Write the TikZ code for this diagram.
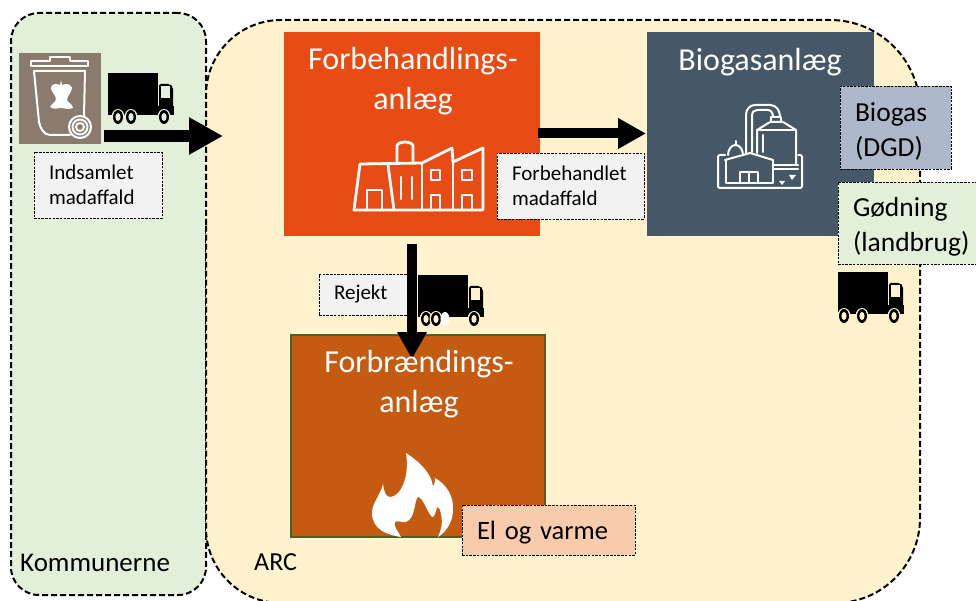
\documentclass[tikz,border=0pt]{standalone}
\usepackage{fontspec}
\setmainfont{Carlito}
\usetikzlibrary{arrows.meta}

\definecolor{kommunegreen}{HTML}{E2F0D9}
\definecolor{arcyellow}{HTML}{FFF2CC}
\definecolor{factoryorange}{HTML}{E84C14}
\definecolor{biogasslate}{HTML}{465868}
\definecolor{burnbrown}{HTML}{C55A11}
\definecolor{burnedge}{HTML}{4B6125}
\definecolor{binbrown}{HTML}{8B7B6E}
\definecolor{labelgray}{HTML}{F2F2F2}
\definecolor{gasblue}{HTML}{ADB9CA}
\definecolor{heatpeach}{HTML}{F8CBAD}

\tikzset{
  zone/.style={draw, line width=2pt, dash pattern=on 6pt off 3pt, outer sep=0pt},
  plant/.style={anchor=north west, inner sep=0pt, outer sep=0pt},
  plantname/.style={text=white, font=\fontsize{32}{39.5}\selectfont, align=center, anchor=north},
  tag/.style={draw, line width=0.8pt, dash pattern=on 2.5pt off 1.2pt, anchor=north west, inner ysep=0pt, inner xsep=15pt, outer sep=0pt, align=left},
  smalltag/.style={tag, font=\fontsize{21}{25.5}\selectfont},
  bigtag/.style={tag, font=\fontsize{27.5}{35}\selectfont, execute at end node={\par\vspace*{-8pt}}},
  flow/.style={-{Triangle[length=34pt, width=35pt]}, line width=12pt},
  thinflow/.style={-{Triangle[length=28pt, width=29pt]}, line width=10pt},
  icon/.style={white, line width=2pt, line join=round, line cap=round},
  pics/truck/.style n args={3}{code={
    \fill (0,0) rectangle (49.5,40);
    \fill (0,33) rectangle (66,42);
    \fill[rounded corners=2pt] (51,11) -- (62,11) -- (65,14) -- (65,35) -- (51,35) -- cycle;
    \fill[#1] (53,13) rectangle (62,25);
    \foreach \wheel in {#2,#3,56} {
      \fill[#1] (\wheel,44) ellipse (6.5 and 8);
      \fill (\wheel,44) ellipse (5 and 7);
      \fill[#1] (\wheel,44) ellipse (2.6 and 4);
    }
  }}
}

\begin{document}
\begin{tikzpicture}[x=1pt, y=-1pt]
  \useasboundingbox (0,0) rectangle (976,601);

  % the two zones
  \node[zone, fill=kommunegreen, rounded corners=28pt, anchor=north west, minimum width=195pt, minimum height=582pt] (kommune) at (11,13) {};
  \draw[zone, fill=arcyellow] (206,300) [rounded corners=75pt] -- (206,20) [rounded corners=90pt] -- (920,20) [rounded corners=85pt] -- (920,603) [rounded corners=75pt] -- (206,603) -- cycle;
  \node[anchor=base west, inner sep=0pt, font=\fontsize{27}{30}\selectfont] (kommunename) at (20,571) {Kommunerne};
  \node[anchor=base west, inner sep=0pt, font=\fontsize{26}{28}\selectfont] (arcname) at (254,570) {ARC};

  % plants
  \node[plant, fill=factoryorange, minimum width=256pt, minimum height=204pt] (factory) at (284,32) {};
  \node[plant, fill=biogasslate, minimum width=227pt, minimum height=204pt] (biogas) at (647,32) {};
  \node[plant, draw=burnedge, line width=2pt, fill=burnbrown, minimum width=254pt, minimum height=202pt] (burner) at (291,335) {};

  % in and out of the plants
  \coordinate (binout) at (104,136);
  \coordinate (arcin) at (223,136);
  \coordinate (burnerin) at (412,359);
  \draw[flow] (binout) -- (arcin);
  \draw[thinflow, shorten <=-2pt, shorten >=1pt] (factory.east |- 0,133.5) -- (biogas.west |- 0,133.5);
  \draw[-{Triangle[length=27pt, width=28pt]}, line width=10pt, shorten <=8pt] (factory.south -| burnerin) -- (burnerin);

  \node[plantname] (factoryname) at (413,44) {Forbehandlings-\\anlæg};
  \node[plantname] (biogasname) at (760,45) {Biogasanlæg};
  \node[plantname] (burnername) at (419,347) {Forbrændings-\\anlæg};

  % bin
  \node[plant, fill=binbrown, minimum width=82pt, minimum height=91pt] (bin) at (19,53) {};
  \draw[icon] (31,61) -- (50,61) -- (50,57) -- (70,57) -- (70,61) -- (88,61) -- (88,66) -- (31,66) -- cycle;
  \draw[icon] (34,71) -- (85,71) -- (84,116);
  \draw[icon] (34,71) -- (39,122) .. controls (40,128) and (44,135) .. (50,135) -- (70,135);
  \fill[white] (61,80) -- (62,85) .. controls (66,83) and (71,84) .. (72,88)
    .. controls (72,92) and (67,96) .. (67,100) .. controls (67,102) and (73,104) .. (73,108)
    .. controls (68,110) and (64,108) .. (61,108) .. controls (58,108) and (54,110) .. (50,107)
    .. controls (52,103) and (56,102) .. (56,99) .. controls (56,95) and (51,92) .. (51,88)
    .. controls (51,84) and (56,83) .. (60,85) -- cycle;
  \filldraw[icon, fill=binbrown] (80,127) circle (11);
  \draw[icon] (80,127) circle (7.5);
  \draw[icon] (80,127) circle (4);

  % factory symbol
  \draw[icon, line width=2.8pt] (354,210) -- (360,164) -- (422,163) -- (452,148) -- (453,162) -- (483,148) -- (483,210) -- cycle;
  \draw[icon, line width=2.8pt] (397,162) -- (397,146) arc (180:360:8 and 4) -- (413,162);
  \draw[icon, line width=2.8pt] (388,165) -- (394,210);
  \draw[icon, line width=2.8pt] (422,163) -- (422,210);
  \draw[icon, line width=2.8pt] (453,162) -- (453,210);
  \draw[icon, line width=2.8pt] (367,210) -- (367,190) -- (382,190) -- (382,210);
  \draw[icon, line width=2.8pt] (401,177) -- (401,199);
  \draw[icon, line width=2.8pt] (412,177) -- (412,199);
  \draw[icon, line width=2.8pt] (431,170) rectangle (440,180);
  \draw[icon, line width=2.8pt] (462,170) rectangle (472,180);
  \draw[icon, line width=2.8pt] (431,210) -- (431,195) -- (440,195) -- (440,210);
  \draw[icon, line width=2.8pt] (462,210) -- (462,195) -- (472,195) -- (472,210);

  % biogas symbol
  \draw[icon, rounded corners=2pt] (725,155) -- (718,155) -- (718,188) -- (802,188) -- (802,155) -- (798,155);
  \draw[icon] (725,160) -- (750,153) -- (773,160);
  \draw[icon] (726,160) -- (726,183) -- (773,183) -- (773,160);
  \draw[icon] (740,183) -- (740,172) -- (758,172) -- (758,183);
  \draw[icon] (749,172) -- (749,183);
  \draw[icon] (728,155) arc (180:360:7.5 and 10);
  \draw[icon] (736,145) -- (736,141);
  \draw[icon] (757,153) -- (757,130) -- (770,122) -- (783,122) -- (796,130) -- (796,165);
  \draw[icon] (757,130) -- (796,130);
  \draw[icon] (773,165) -- (798,165);
  \draw[icon] (773,169) -- (798,169);
  \draw[icon] (763,135) -- (763,152);
  \draw[icon] (746,153) -- (746,115) .. controls (746,109) and (750,105) .. (755,105) -- (770,105) .. controls (776,105) and (780,110) .. (780,117);
  \draw[icon] (752,152) -- (752,116) .. controls (752,112) and (754,110) .. (757,110) -- (768,110) .. controls (771,110) and (773,113) .. (773,117);
  \draw[icon] (771,117) rectangle (781,122);
  \fill[white] (779,181) -- (785,181) -- (782,185) -- cycle;
  \fill[white] (789,175) -- (796,175) -- (792,180) -- cycle;

  % flame
  \fill[white] (401,537) .. controls (388,535) and (372,530) .. (372,513)
    .. controls (372,503) and (380,496) .. (383,484)
    .. controls (384,492) and (386,497) .. (390,497)
    .. controls (400,497) and (410,478) .. (406,453)
    .. controls (420,462) and (432,474) .. (433,487)
    .. controls (435,484) and (435,481) .. (435,478)
    .. controls (446,484) and (454,496) .. (453,510)
    .. controls (453,522) and (446,532) .. (438,537)
    .. controls (441,530) and (443,524) .. (441,514)
    .. controls (440,509) and (439,507) .. (437,507)
    .. controls (436,512) and (434,518) .. (432,517)
    .. controls (427,512) and (423,497) .. (418,497)
    .. controls (414,500) and (416,518) .. (406,522)
    .. controls (402,523) and (398,520) .. (395,522)
    .. controls (393,526) and (398,531) .. (401,537) -- cycle;

  % trucks
  \pic (truckbin) at (108,73) {truck={kommunegreen}{10}{23}};
  \pic (truckreject) at (418,275) {truck={arcyellow}{8}{18}};
  \fill[white] (445,319) ellipse (4.5 and 7);
  \pic (truckgoedning) at (838,272) {truck={arcyellow}{6}{24}};

  % tags
  \node[smalltag, fill=labelgray, text width=98pt, minimum height=66pt] (collected) at (34,152) {Indsamlet\\madaffald};
  \node[smalltag, fill=labelgray, text width=117pt, minimum height=66pt] (pretreated) at (497,153) {Forbehandlet\\madaffald};
  \node[smalltag, fill=labelgray, text width=58pt, minimum height=41pt] (reject) at (319,274) {Rejekt};
  \node[bigtag, fill=gasblue, text width=81pt, minimum height=83pt] (gas) at (840,86) {Biogas\\(DGD)};
  \node[bigtag, fill=kommunegreen, text width=108pt, minimum height=82pt] (fertiliser) at (838,182) {Gødning\\(landbrug)};
  \node[bigtag, fill=heatpeach, font=\fontsize{26.5}{35}\selectfont, text width=143pt, minimum height=50pt] (heat) at (462,505) {El og varme};
\end{tikzpicture}
\end{document}
